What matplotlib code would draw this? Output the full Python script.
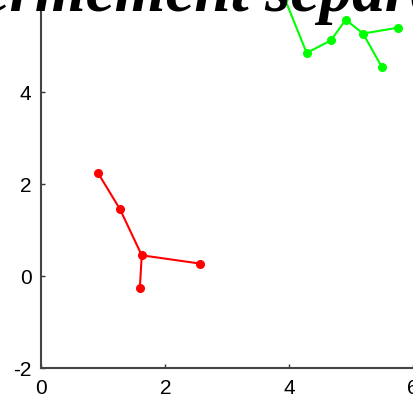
import matplotlib
matplotlib.use('Agg')
import matplotlib.pyplot as plt

plt.rcParams['axes.unicode_minus'] = False

# two point clouds, each joined as a small tree
red_x = [0.91, 1.27, 1.62, 1.59, 2.56]
red_y = [2.25, 1.45, 0.45, -0.25, 0.27]
red_edges = [(0, 1), (1, 2), (2, 3), (2, 4)]

green_x = [3.92, 4.28, 4.67, 4.91, 5.19, 5.76, 5.49]
green_y = [6.05, 4.85, 5.12, 5.57, 5.27, 5.40, 4.55]
green_edges = [(0, 1), (1, 2), (2, 3), (3, 4), (4, 5), (4, 6)]

xticks = [0, 2, 4, 6]
yticks = [-2, 0, 2, 4]
title = 'Classes fermement séparées'

W, H = 413, 406
fig = plt.figure(figsize=(W / 100, H / 100), dpi=100)
# axes run past the right/top edge: the picture is a crop
ax = fig.add_axes([41.3 / W, 37 / H, 8 * 62 / W, 10 * 46 / H])
ax.set_xlim(0, 8)
ax.set_ylim(-2, 8)

for xs, ys, edges, col in [(red_x, red_y, red_edges, '#ff0000'),
                           (green_x, green_y, green_edges, '#00ff00')]:
    for a, b in edges:
        ax.plot([xs[a], xs[b]], [ys[a], ys[b]], color=col, linewidth=1.5,
                clip_on=False)
    ax.plot(xs, ys, 'o', color=col, markersize=5.5, clip_on=False)

ax.set_xticks(xticks)
ax.set_yticks(yticks)
ax.tick_params(direction='in', length=3, width=1, colors='#333333',
               labelsize=15, labelcolor='black', pad=7)
for lab in ax.get_xticklabels() + ax.get_yticklabels():
    lab.set_family('Liberation Sans')
for s in ax.spines.values():
    s.set_color('#444444')
    s.set_linewidth(1.5)

# title text sits half out of the crop
tfont = dict(fontsize=47, family='Liberation Serif', weight='bold',
             style='italic')
prefix = 'Classes fermement '
tmp = fig.text(0, 0, prefix, **tfont)
fig.canvas.draw()
pw = tmp.get_window_extent().width
tmp.remove()
fig.text((265 - pw) / W, (H - 11) / H, title, va='baseline', ha='left',
         **tfont)

fig.savefig('out.png', dpi=100)
